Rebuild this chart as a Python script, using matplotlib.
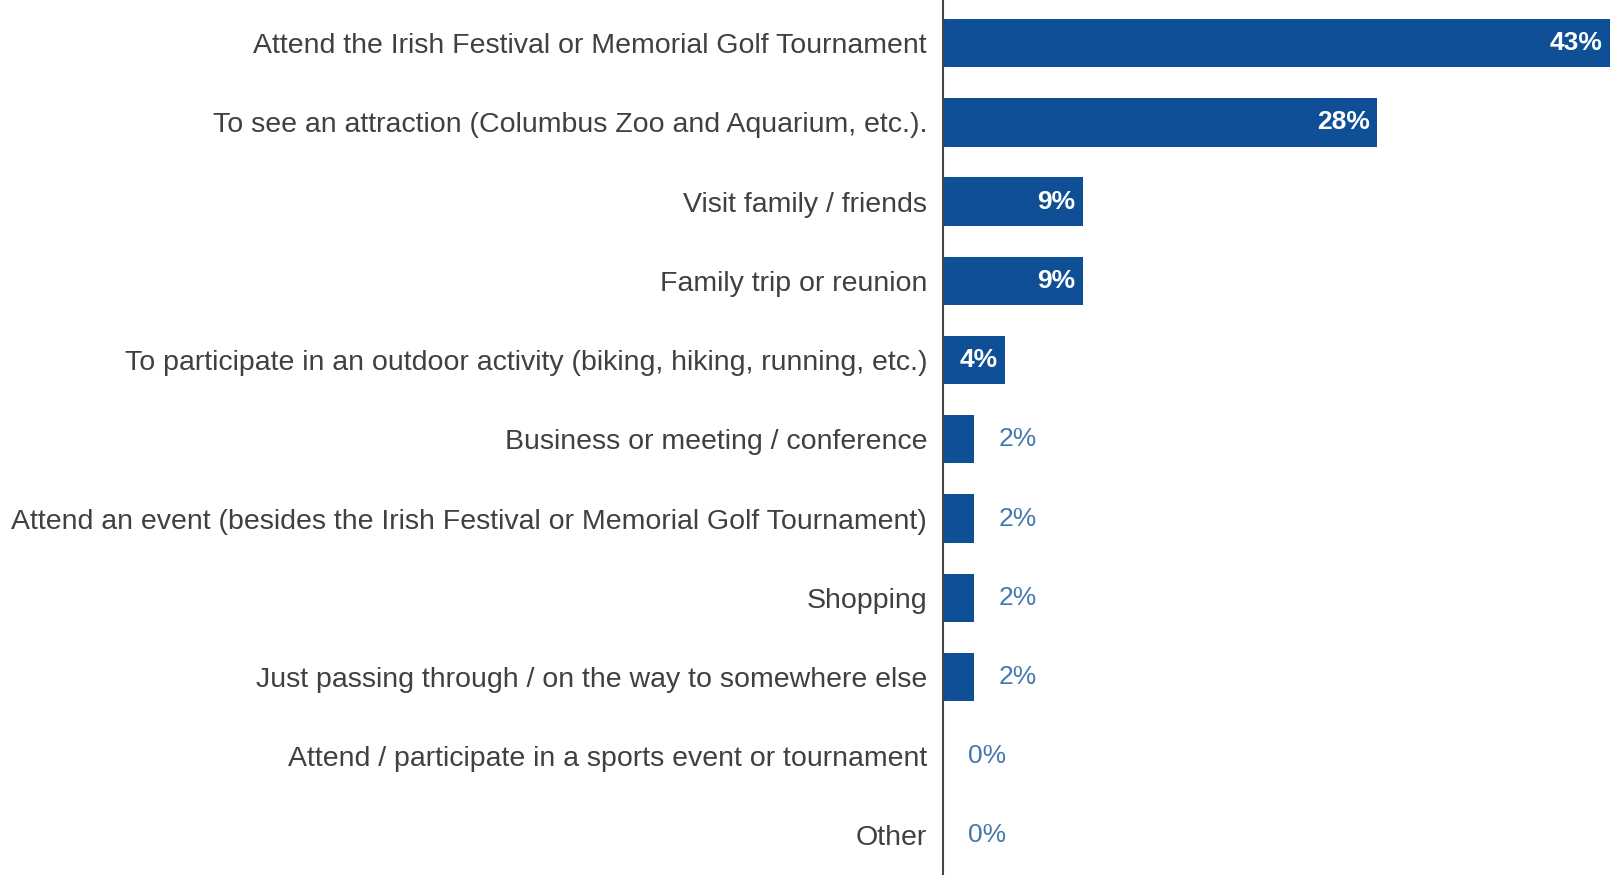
import matplotlib.pyplot as plt

plt.rcParams['font.family'] = ['Liberation Sans', 'DejaVu Sans']

reasons = [
    "Attend the Irish Festival or Memorial Golf Tournament",
    "To see an attraction (Columbus Zoo and Aquarium, etc.).",
    "Visit family / friends",
    "Family trip or reunion",
    "To participate in an outdoor activity (biking, hiking, running, etc.)",
    "Business or meeting / conference",
    "Attend an event (besides the Irish Festival or Memorial Golf Tournament)",
    "Shopping",
    "Just passing through / on the way to somewhere else",
    "Attend / participate in a sports event or tournament",
    "Other",
]
shares = [43, 28, 9, 9, 4, 2, 2, 2, 2, 0, 0]

bar_color = "#0e4f95"
out_color = "#4677ad"

fig = plt.figure(figsize=(16.1, 8.75), dpi=100)
ax = fig.add_axes([943 / 1610, 0, 1 - 943 / 1610, 1])

ypos = list(range(len(reasons)))
ax.barh(ypos, shares, height=0.61, color=bar_color)

ax.set_xlim(0, 43)
ax.set_ylim(10.5, -0.545)

for y, v in zip(ypos, shares):
    if v >= 4:
        ax.text(v - 0.5, y, f"{v}%", ha="right", va="center",
                color="white", fontsize=19, fontweight="bold")
    else:
        ax.text(v + 1.6, y, f"{v}%", ha="left", va="center",
                color=out_color, fontsize=19)

ax.set_yticks(ypos)
ax.set_yticklabels(reasons, fontsize=20.5, color="#404040")
ax.tick_params(axis="y", length=0, pad=11.5)
ax.set_xticks([])

for side in ["top", "right", "bottom"]:
    ax.spines[side].set_visible(False)
ax.spines["left"].set_color("#444444")
ax.spines["left"].set_linewidth(1.5)

fig.savefig("out.png", dpi=100)
